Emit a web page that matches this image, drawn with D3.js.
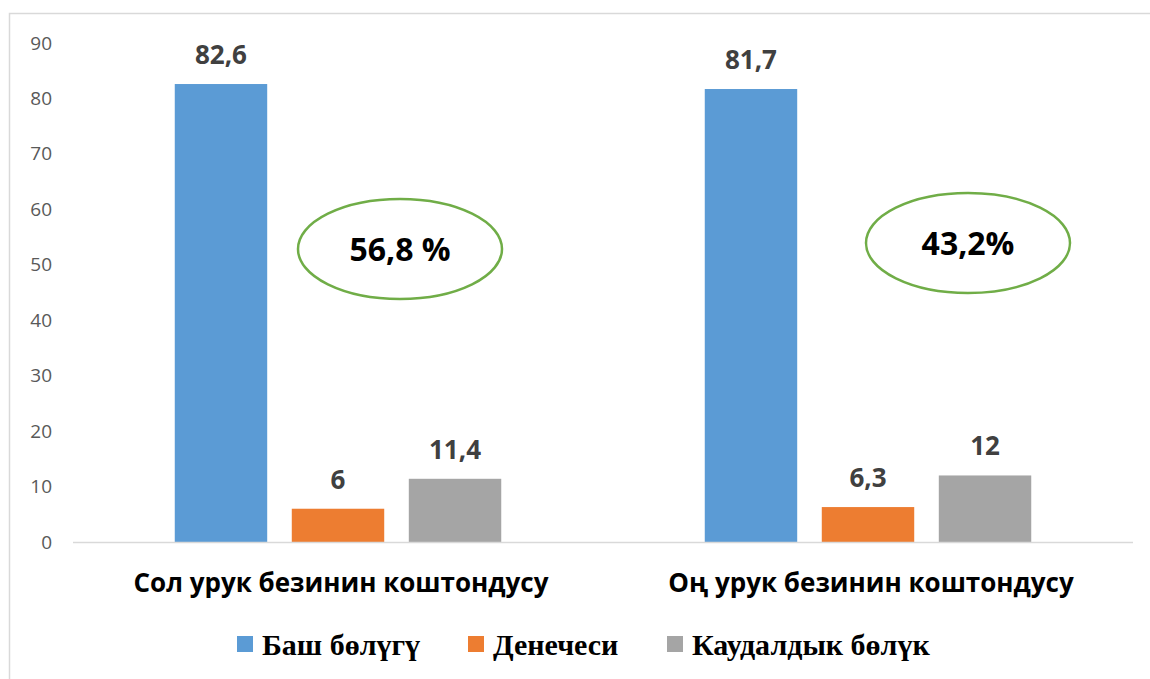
<!DOCTYPE html>
<html>
<head>
<meta charset="utf-8">
<script src="https://cdn.jsdelivr.net/npm/d3@7"></script>
<style>
  body { margin:0; background:#fff; }
  svg { display:block; }
</style>
</head>
<body>
<div id="chart"></div>
<script>
// Data
const categories = ['Сол урук безинин коштондусу', 'Оң урук безинин коштондусу'];
const seriesNames = ['Баш бөлүгү', 'Денечеси', 'Каудалдык бөлүк'];
const seriesColors = ['#5b9bd5', '#ed7d31', '#a5a5a5'];
const headValues = [82.6, 81.7];
const bodyValues = [6, 6.3];
const tailValues = [11.4, 12];
const shareLabels = ['56,8 %', '43,2%'];
const yTicks = [0, 10, 20, 30, 40, 50, 60, 70, 80, 90];

const width = 1150, height = 679;
const margin = { left: 73, right: 20, top: 43, bottom: 137 };

const svg = d3.select('#chart').append('svg')
  .attr('width', width).attr('height', height);

// outer frame
svg.append('rect')
  .attr('x', 9.5).attr('y', 13.5)
  .attr('width', width + 20).attr('height', height + 20)
  .attr('fill', '#fff').attr('stroke', '#d9d9d9').attr('stroke-width', 1.5);

const x0 = d3.scaleBand().domain(categories).range([margin.left, 1133]).paddingInner(0).paddingOuter(0);
const x1 = d3.scaleBand().domain(seriesNames).range([x0.bandwidth() * 0.192, x0.bandwidth() * 0.808]).paddingInner(0.21).paddingOuter(0);
const y = d3.scaleLinear().domain([0, 90]).range([542, 43]);

// y axis labels (no line)
const yAxis = svg.append('g').attr('transform', 'translate(52,0)')
  .call(d3.axisLeft(y).tickValues(yTicks).tickSize(0).tickPadding(0));
yAxis.select('.domain').remove();
yAxis.selectAll('text')
  .attr('font-family', '"Open Sans", sans-serif').attr('font-size', 19)
  .attr('fill', '#595959');

const rows = categories.map((c, i) => ({
  cat: c,
  values: [headValues[i], bodyValues[i], tailValues[i]]
}));

const groups = svg.selectAll('g.grp').data(rows).join('g')
  .attr('class', 'grp')
  .attr('transform', d => `translate(${x0(d.cat)},0)`);

groups.selectAll('rect').data(d => d.values.map((v, j) => ({ v, s: seriesNames[j], j })))
  .join('rect')
  .attr('x', d => x1(d.s))
  .attr('width', x1.bandwidth())
  .attr('y', d => y(d.v))
  .attr('height', d => y(0) - y(d.v))
  .attr('fill', d => seriesColors[d.j]);

groups.selectAll('text.val').data(d => d.values.map((v, j) => ({ v, s: seriesNames[j] })))
  .join('text')
  .attr('class', 'val')
  .attr('x', d => x1(d.s) + x1.bandwidth() / 2)
  .attr('y', d => y(d.v) - 20)
  .attr('text-anchor', 'middle')
  .attr('font-family', '"Open Sans", sans-serif').attr('font-weight', 700).attr('font-size', 26)
  .attr('fill', '#404040')
  .text(d => String(d.v).replace('.', ','));

// baseline
svg.append('line')
  .attr('x1', margin.left).attr('x2', 1133)
  .attr('y1', y(0) + 0.5).attr('y2', y(0) + 0.5)
  .attr('stroke', '#d9d9d9').attr('stroke-width', 1.5);

// category labels
svg.selectAll('text.cat').data(categories).join('text')
  .attr('class', 'cat')
  .attr('x', d => x0(d) + x0.bandwidth() / 2 + 3)
  .attr('y', 592)
  .attr('text-anchor', 'middle')
  .attr('font-family', '"Open Sans", sans-serif').attr('font-weight', 700).attr('font-size', 26)
  .attr('fill', '#000')
  .text(d => d);

// share ellipses
const ell = svg.selectAll('g.ell').data(shareLabels).join('g')
  .attr('class', 'ell')
  .attr('transform', (d, i) => `translate(${x0(categories[i]) + x0.bandwidth() / 2 + (i === 0 ? 62 : 100)},${i === 0 ? 249 : 243})`);
ell.append('ellipse')
  .attr('rx', 102).attr('ry', 50)
  .attr('fill', 'none').attr('stroke', '#70ad47').attr('stroke-width', 2.5);
ell.append('text')
  .attr('text-anchor', 'middle').attr('dy', 12)
  .attr('font-family', '"Open Sans", sans-serif').attr('font-weight', 700).attr('font-size', 32)
  .attr('fill', '#000')
  .text(d => d);

// legend
const legendX = [237, 468, 667];
const legend = svg.selectAll('g.leg').data(seriesNames).join('g')
  .attr('class', 'leg')
  .attr('transform', (d, i) => `translate(${legendX[i]},636)`);
legend.append('rect').attr('width', 16).attr('height', 16)
  .attr('fill', (d, i) => seriesColors[i]);
legend.append('text')
  .attr('x', 25).attr('y', 19)
  .attr('font-family', '"Liberation Serif", "Times New Roman", serif')
  .attr('font-weight', 700).attr('font-size', 30)
  .attr('fill', '#000')
  .text(d => d);
</script>
</body>
</html>
